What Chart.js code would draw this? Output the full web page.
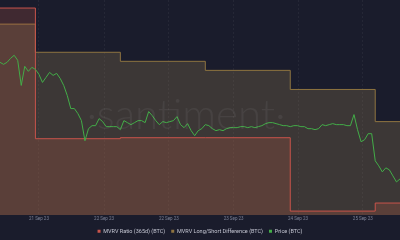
<!DOCTYPE html>
<html>
<head>
<meta charset="utf-8">
<script src="https://cdn.jsdelivr.net/npm/chart.js@4"></script>
<style>
  html, body { margin: 0; padding: 0; background: #1a1c2c; }
  #wrap { width: 400px; height: 240px; }
</style>
</head>
<body>
<div id="wrap"><canvas id="myChart"></canvas></div>
<script>
// hours since start of the window
var stepHours = [0, 10, 34, 58, 82, 106, 113];
var mvrvRatio = [206, 76, 77, 77, 4, 12, 12];
var longShort = [190, 162, 153, 144, 125, 93, 93];

// hourly price, hour 0 .. 113
var price = [
    152, 150, 152, 156, 159, 154, 129, 148, 143, 147,
    145, 140, 132, 137, 142, 139, 141, 136, 129, 119,
    106, 106, 101, 94, 74, 86, 89, 89, 96, 93,
    88, 88, 88, 88, 85, 94, 92, 90, 92, 94,
    94, 92, 103, 99, 94, 90, 93, 92, 93, 94,
    98, 90, 87, 91, 84, 79, 84, 86, 90, 89,
    86, 84, 85, 84, 86, 87, 87, 87, 88, 88,
    87, 88, 87, 88, 89, 91, 92, 92, 91, 90,
    89, 89, 88, 89, 89, 88, 88, 86, 86, 85,
    86, 90, 89, 90, 91, 90, 90, 90, 89, 89,
    100, 85, 73, 75, 81, 81, 54, 49, 43, 47,
    45, 39, 33, 36
];

var tickHours = [11, 29.4, 47.7, 66, 84.2, 102.5];
var tickLabels = ['21 Sep 23', '22 Sep 23', '22 Sep 23', '23 Sep 23', '24 Sep 23', '25 Sep 23'];

function pts(xs, ys) {
    var out = [];
    for (var i = 0; i < ys.length; i++) out.push({ x: xs[i], y: ys[i] });
    return out;
}

var pricePts = [];
for (var h = 0; h < price.length; h++) pricePts.push({ x: h, y: price[h] });

var watermark = {
    id: 'watermark',
    afterDatasetsDraw: function (chart) {
        var ctx = chart.ctx;
        ctx.save();
        ctx.font = '300 42px Lato';
        ctx.fillStyle = 'rgba(255,255,255,0.06)';
        ctx.textAlign = 'center';
        ctx.fillText('·santiment·', 186, 115);
        ctx.restore();
    }
};

var ctx = document.getElementById('myChart').getContext('2d');

var chart = new Chart(ctx, {
    type: 'line',
    data: {
        datasets: [{
            label: 'MVRV Ratio (365d) (BTC)',
            data: pts(stepHours, mvrvRatio),
            stepped: true,
            borderColor: '#c9544b',
            backgroundColor: 'rgba(200,90,70,0.22)',
            borderWidth: 1,
            fill: 'start',
            pointRadius: 0,
            order: 1
        }, {
            label: 'MVRV Long/Short Difference (BTC)',
            data: pts(stepHours, longShort),
            stepped: true,
            borderColor: '#8f7440',
            backgroundColor: 'rgba(140,120,80,0.3)',
            borderWidth: 1,
            fill: 'start',
            pointRadius: 0,
            order: 2
        }, {
            label: 'Price (BTC)',
            data: pricePts,
            borderColor: '#43ad48',
            backgroundColor: '#43ad48',
            borderWidth: 1,
            fill: false,
            pointRadius: 0,
            tension: 0,
            order: 0
        }]
    },
    options: {
        responsive: true,
        maintainAspectRatio: false,
        animation: false,
        layout: { padding: { bottom: -4 } },
        plugins: {
            tooltip: { enabled: false },
            legend: {
                position: 'bottom',
                labels: {
                    color: '#c4c6d2',
                    font: { family: 'Roboto', size: 5.5 },
                    boxWidth: 3,
                    boxHeight: 3,
                    padding: 6,
                    generateLabels: function (chart) {
                        return chart.data.datasets.map(function (ds, i) {
                            return {
                                text: ds.label,
                                fillStyle: ds.borderColor,
                                strokeStyle: ds.borderColor,
                                lineWidth: 0,
                                datasetIndex: i,
                                fontColor: '#c4c6d2'
                            };
                        });
                    }
                }
            }
        },
        scales: {
            x: {
                type: 'linear',
                min: 0,
                max: 113,
                afterBuildTicks: function (scale) {
                    scale.ticks = tickHours.map(function (v) { return { value: v }; });
                },
                ticks: {
                    color: '#7d8296',
                    font: { family: 'Roboto', size: 4.5 },
                    padding: 1,
                    maxRotation: 0,
                    autoSkip: false,
                    callback: function (v, i) { return tickLabels[i]; }
                },
                grid: {
                    color: 'rgba(255,255,255,0.05)',
                    drawTicks: false
                },
                border: { display: false, dash: [2, 2] }
            },
            y: {
                display: false,
                min: 0,
                max: 214
            }
        }
    },
    plugins: [watermark]
});
</script>
</body>
</html>
